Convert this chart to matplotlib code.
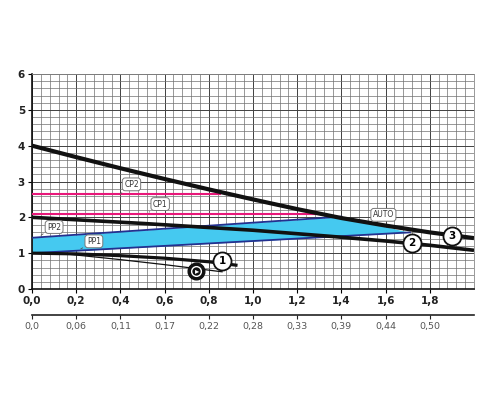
import numpy as np
import matplotlib
matplotlib.use('Agg')
import matplotlib.pyplot as plt

# Courbes (x en m3/h, y en m)
q3 = [0.0, 0.2, 0.4, 0.6, 0.8, 1.0, 1.2, 1.4, 1.6, 1.8, 2.0]
h3 = [4.0, 3.68, 3.37, 3.07, 2.78, 2.5, 2.23, 1.98, 1.77, 1.58, 1.42]

q2 = [0.0, 0.5, 1.0, 1.35, 1.6, 1.8, 2.0]
h2 = [2.0, 1.83, 1.64, 1.47, 1.34, 1.22, 1.08]

q1 = [0.0, 0.2, 0.4, 0.6, 0.8, 0.93]
h1 = [1.0, 0.98, 0.93, 0.86, 0.76, 0.66]

q_eco = [0.15, 0.4, 0.6, 0.86]
h_eco = [0.98, 0.82, 0.68, 0.48]

# Pression constante
cp2_q = [0.0, 0.85]
cp2_h = [2.65, 2.65]
cp1_q = [0.0, 1.3]
cp1_h = [2.1, 2.1]

# Pression proportionnelle (zone bleue)
pp2_q = [0.0, 1.4]
pp2_h = [1.43, 2.02]
auto_q = [1.4, 1.71]
auto_h = [2.02, 1.58]
pp1_q = [0.0, 1.71]
pp1_h = [1.0, 1.58]

# Axes
x_ticks = [0.0, 0.2, 0.4, 0.6, 0.8, 1.0, 1.2, 1.4, 1.6, 1.8]
x_labels = ['0,0', '0,2', '0,4', '0,6', '0,8', '1,0', '1,2', '1,4', '1,6', '1,8']
x2_labels = ['0,0', '0,06', '0,11', '0,17', '0,22', '0,28', '0,33', '0,39', '0,44', '0,50']
y_ticks = [0, 1, 2, 3, 4, 5, 6]

fig = plt.figure(figsize=(5, 4), dpi=100)
ax = fig.add_axes([0.064, 0.2775, 0.884, 0.5375])
ax.set_xlim(0, 2.0)
ax.set_ylim(0, 6)

# Quadrillage
ax.set_xticks(np.arange(0, 2.001, 0.04), minor=True)
ax.set_yticks(np.arange(0, 6.001, 0.2), minor=True)
ax.set_xticks(x_ticks, x_labels)
ax.set_yticks(y_ticks)
ax.grid(which='minor', color='#707070', lw=0.5)
ax.grid(which='major', color='#404040', lw=0.7)
ax.axvline(2.0, color='#707070', lw=0.6)
ax.tick_params(which='minor', length=0)
ax.tick_params(which='major', length=3, width=0.8, labelsize=7.5, pad=2)
for lab in ax.get_xticklabels() + ax.get_yticklabels():
    lab.set_fontweight('bold')
    lab.set_color('#222222')
for s in ['top', 'right']:
    ax.spines[s].set_color('#888888')
    ax.spines[s].set_linewidth(0.6)
for s in ['left', 'bottom']:
    ax.spines[s].set_color('#111111')
    ax.spines[s].set_linewidth(1.2)

# Zone bleue PP1 / PP2 / AUTO
upper_q = pp2_q + auto_q[1:]
upper_h = pp2_h + auto_h[1:]
qq = np.linspace(0, 1.71, 100)
ax.fill_between(qq, np.interp(qq, pp1_q, pp1_h), np.interp(qq, upper_q, upper_h),
                color='#45c9f0', zorder=2, lw=0)
ax.plot(pp2_q, pp2_h, color='#23308f', lw=1.3, zorder=3)
ax.plot(pp1_q, pp1_h, color='#23308f', lw=1.3, zorder=3)

# Pression constante
ax.plot(cp2_q, cp2_h, color='#e8187a', lw=1.5, zorder=3)
ax.plot(cp1_q, cp1_h, color='#e8187a', lw=1.5, zorder=3)

# Courbes de vitesse
ax.plot(q3, h3, color='#111111', lw=3.0, zorder=4, solid_capstyle='butt')
ax.plot(q2, h2, color='#111111', lw=2.6, zorder=4, solid_capstyle='butt')
ax.plot(q1, h1, color='#111111', lw=2.3, zorder=4, solid_capstyle='butt')
ax.plot(q_eco, h_eco, color='#111111', lw=0.9, zorder=4)

# Etiquettes avec bulle
box = dict(boxstyle='round,pad=0.25,rounding_size=0.4', fc='white', ec='#777777', lw=0.7)
callouts = [('CP2', 0.45, 2.92, 0.4, 2.65),
            ('CP1', 0.58, 2.37, 0.52, 2.1),
            ('PP2', 0.1, 1.73, 0.03, 1.46),
            ('PP1', 0.28, 1.33, 0.21, 1.08),
            ('AUTO', 1.59, 2.07, 1.52, 1.93)]
for txt, tx, ty, px, py in callouts:
    ax.annotate(txt, xy=(px, py), xytext=(tx, ty), fontsize=5.5, color='#333333',
                ha='center', va='center', bbox=box, zorder=6,
                arrowprops=dict(arrowstyle='-', color='#555555', lw=0.6))

# Numeros des vitesses
for num, nx, ny in [('1', 0.86, 0.79), ('2', 1.72, 1.28), ('3', 1.9, 1.48)]:
    ax.plot(nx, ny, 'o', ms=13, mfc='white', mec='#111111', mew=1.3, zorder=7)
    ax.text(nx, ny, num, fontsize=7.5, fontweight='bold', ha='center', va='center', zorder=8)

# Icone eco
ax.plot(0.74, 0.5, 'o', ms=12, mfc='#111111', mec='#111111', zorder=7)
ax.plot(0.74, 0.5, 'o', ms=7, mfc='none', mec='white', mew=1.0, zorder=8)
ax.text(0.745, 0.5, '\u25b8', fontsize=6, color='white', ha='center', va='center', zorder=9)

# Deuxieme axe (l/s)
sec = ax.secondary_xaxis(-0.121)
sec.set_xticks(x_ticks, x2_labels)
sec.spines['bottom'].set_color('#222222')
sec.spines['bottom'].set_linewidth(1.2)
sec.tick_params(length=3, width=0.8, labelsize=6.8, colors='#555555', pad=2)
sec.tick_params(axis='x', color='#222222')

fig.savefig('out.png', dpi=100)
